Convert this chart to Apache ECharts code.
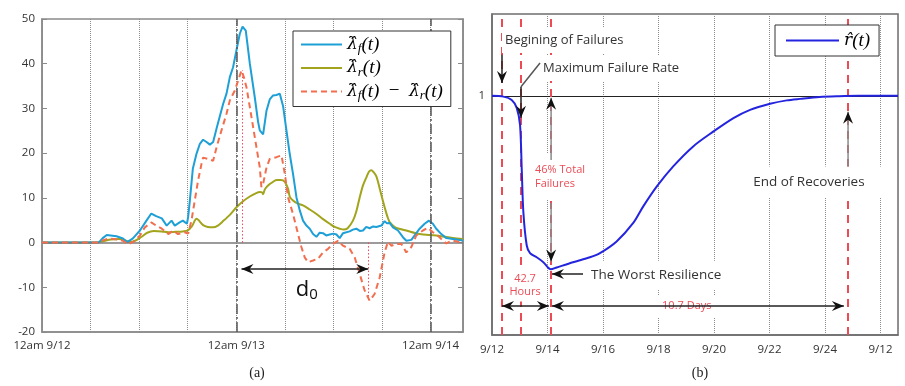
<!DOCTYPE html>
<html><head><meta charset="utf-8">
<script src="https://cdn.jsdelivr.net/npm/echarts@6/dist/echarts.min.js"></script>
<style>html,body{margin:0;padding:0;background:#fff}#c{width:905px;height:386px}</style>
</head><body><div id="c"></div>
<script>
// ---------- data ----------
// (a) hours since 12am 9/12
const failHours = [0,7.0,7.5,8.0,9.2,10.0,10.5,11.2,12.1,12.9,13.5,14.1,14.8,15.4,16.0,16.4,17.0,17.4,17.9,18.05,18.26,18.63,19.09,19.5,19.9,20.32,20.73,21.14,21.56,22.37,22.79,23.2,23.6,24.02,24.43,24.77,25.17,25.67,26.28,26.69,26.9,27.31,27.73,28.13,28.54,28.96,29.37,29.58,29.78,30.2,30.6,31.0,31.43,31.84,32.24,32.66,33.07,33.48,33.9,34.3,34.71,35.1,35.54,36.0,36.37,36.77,37.18,37.6,38.0,38.4,38.83,39.25,39.65,40.05,40.47,40.9,41.3,41.92,42.32,42.6,42.94,43.35,43.97,44.58,45.0,45.62,46.03,46.64,47.26,47.79,48.28,48.7,49.32,49.94,50.75,51.58,52];
const failRate = [0,0,1.0,1.7,1.4,0.9,0.1,0.9,2.7,4.9,6.5,5.9,5.4,3.8,4.9,3.8,4.5,4.9,4.2,5.7,9.4,16.5,19.9,22.1,23.0,22.5,21.9,22.5,25.5,31.0,33.3,37.0,39.2,43.0,46.7,48.3,47.4,40.0,32.5,27.0,25.1,24.2,29.5,32.0,32.9,33.0,33.3,33.6,30.5,25.0,19.8,15.4,10.1,7.2,4.9,3.8,3.1,1.9,1.3,2.2,2.1,1.6,1.8,2.0,1.8,1.0,2.1,2.3,2.5,2.9,3.1,2.6,2.7,3.5,3.2,3.6,3.5,3.8,4.8,4.3,4.4,3.4,2.7,1.2,0.4,0.6,1.6,3.1,4.2,4.9,4.2,3.1,1.9,1.0,0.8,0.6,0.4];

const repairHours = [0,6.5,7.5,8.5,9.5,10.3,10.8,11.5,12.3,13.0,13.8,14.8,15.6,16.5,17.4,18.0,18.5,19.09,19.9,20.48,21.14,21.72,22.37,23.2,24.02,24.8,25.67,26.4,26.9,27.2,27.31,27.5,27.73,28.13,28.54,29.0,29.5,29.99,30.4,30.6,31.0,31.6,32.24,33.07,33.9,34.67,35.54,36.15,36.77,37.26,37.75,38.41,38.83,39.24,39.65,40.07,40.4,40.68,40.97,41.3,41.71,42.08,42.32,42.7,42.94,43.3,43.77,45.0,46.64,48.7,50.75,52];
const repairRate = [0,0,0.3,0.7,0.8,0.5,0.1,0.4,1.3,2.2,2.6,2.5,2.3,2.4,2.5,2.7,3.6,5.3,3.9,3.5,3.4,3.8,4.8,6.2,7.9,9.2,10.3,11.0,11.3,11.2,10.8,11.8,12.4,13.1,13.6,14.0,14.0,13.6,12.0,10.3,9.4,8.7,8.3,7.4,6.4,5.3,4.2,3.5,3.1,2.9,3.2,4.9,7.0,10.1,12.8,14.6,15.9,16.2,15.7,14.8,12.1,9.5,7.9,5.6,4.6,3.9,3.3,2.7,1.9,1.6,1.0,0.8];

const netHours = [0,7.0,7.5,8.2,9.3,10.0,10.6,11.3,12.1,12.7,13.5,14.1,14.8,15.6,16.2,16.8,17.6,18.05,18.47,18.87,19.28,19.7,19.9,20.52,21.14,21.56,22.17,22.79,23.2,23.82,24.22,24.64,24.93,25.26,25.67,26.08,26.49,26.9,27.1,27.31,27.73,28.13,28.96,29.58,29.78,29.99,30.39,31.0,31.63,32.04,32.45,32.86,33.48,34.09,34.71,35.33,35.95,36.56,37.18,38.0,38.62,39.24,39.85,40.47,41.08,41.71,42.32,42.73,43.14,43.77,44.38,45.0,45.62,46.23,47.05,47.66,48.28,48.7,49.32,49.94,50.55,51.17,52];
const netRate = [0,0,0.5,0.9,0.7,0.4,-0.4,0.2,1.6,3.4,4.5,3.8,3.1,1.9,2.7,1.9,2.3,2.0,5.0,9.4,13.9,17.6,19.0,18.7,18.3,21.3,25.1,28.8,31.8,34.0,36.2,38.5,37.0,34.7,30.3,25.8,21.3,16.8,12.4,13.1,16.8,18.7,19.1,19.5,19.8,15.4,10.1,6.4,1.9,-1.0,-3.3,-4.4,-4.0,-3.6,-2.2,-1.4,-0.3,0.4,-0.7,-1.4,-3.3,-7.0,-10.7,-13.0,-11.5,-7.8,-2.2,0.2,-0.7,-0.3,-0.3,-2.2,-1.0,1.6,2.7,3.3,2.3,1.9,0.8,-0.2,0.4,0.3,-0.2];

const leftTickLabels = {0:'12am 9/12', 24:'12am 9/13', 48:'12am 9/14'};
const leftYTicks = [-20,-10,0,10,20,30,40,50];

// (b) days since 9/12
const resDays = [0,0.41,0.71,0.89,1.01,1.07,1.13,1.25,1.37,1.61,1.85,2.12,2.33,2.92,3.53,3.89,4.49,5.09,5.45,5.94,6.53,7.25,7.97,8.70,9.30,10.02,10.62,11.1,11.8,12.5,13.2,14.63];
const resValues = [1,0.998,0.989,0.968,0.923,0.809,0.692,0.604,0.583,0.572,0.559,0.54,0.545,0.559,0.572,0.583,0.614,0.663,0.707,0.760,0.813,0.866,0.905,0.941,0.963,0.979,0.988,0.992,0.997,0.999,1,1];
const rightTickLabels = ['9/12','9/14','9/16','9/18','9/20','9/22','9/24','9/12'];
const eventDays = [0.36, 1.045, 2.13, 12.83];   // begin, max rate, worst, end of recoveries
const peakHour = 24.77, peakNet = 38.5, troughHour = 40.3, troughNet = -13.2;

// ---------- chart ----------
const pairs = (xs, ys) => xs.map((x, i) => [x, ys[i]]);
const SANS = '"Open Sans", "Noto Sans", sans-serif';
const SERIF = '"Liberation Serif", "DejaVu Serif", serif';
const HATF = '"DejaVu Serif", serif';
const N_F = 'lf', N_R = 'lr', N_D = 'ld', N_RT = 'rt';
const legendText = {
  lf: '{h|λ\u0302}{s|f}{m|(t)}',
  lr: '{h|λ\u0302}{s|r}{m|(t)}',
  ld: '{h|λ\u0302}{s|f}{m|(t)}{o|  \u2212  }{h|λ\u0302}{s|r}{m|(t)}',
  rt: '{h|r\u0302}{m|(t)}'
};
const legendRich = {
  h: {fontFamily: HATF, fontStyle: 'italic', fontSize: 17, lineHeight: 22, color: '#000'},
  m: {fontFamily: SERIF, fontStyle: 'italic', fontSize: 19, lineHeight: 22, color: '#000'},
  o: {fontFamily: SERIF, fontSize: 19, lineHeight: 22, color: '#000'},
  s: {fontFamily: SERIF, fontStyle: 'italic', fontSize: 13, lineHeight: 12, verticalAlign: 'bottom', color: '#000'}
};
const C_F = '#1e9fd6', C_R = '#a2a41c', C_D = '#f26e4e', C_RT = '#2424df', C_EV = '#ec4b55';

const chart = echarts.init(document.getElementById('c'), null, {renderer: 'canvas'});
const option = {
  animation: false,
  textStyle: {fontFamily: SANS},
  grid: [
    {left: 42, top: 19, width: 421, height: 313, show: true, borderColor: '#8a8a8a', borderWidth: 1.5, outerBoundsMode: 'none'},
    {left: 492, top: 14, width: 406, height: 321, show: true, borderColor: '#6e6e6e', borderWidth: 1.5, outerBoundsMode: 'none'}
  ],
  xAxis: [
    {gridIndex: 0, type: 'value', min: 0, max: 52, interval: 6,
     axisLine: {onZero: false, lineStyle: {color: '#8a8a8a', width: 1.5}}, axisTick: {show: false},
     axisLabel: {formatter: v => leftTickLabels[v] || '', color: '#333', fontSize: 11.5, margin: 8, showMaxLabel: false},
     splitLine: {show: true, lineStyle: {type: 'dotted', color: '#8c8c8c', width: 1}}},
    {gridIndex: 1, type: 'value', min: 0, max: 14.63, interval: 2,
     axisLine: {onZero: false, lineStyle: {color: '#6e6e6e', width: 1.5}}, axisTick: {show: false},
     axisLabel: {formatter: v => (Math.abs(v / 2 - Math.round(v / 2)) < 1e-9 ? (rightTickLabels[Math.round(v / 2)] || '') : ''), color: '#333', fontSize: 11.5, margin: 9, showMaxLabel: false},
     splitLine: {show: true, lineStyle: {type: 'dotted', color: '#8c8c8c', width: 1}}}
  ],
  yAxis: [
    {gridIndex: 0, type: 'value', min: leftYTicks[0], max: leftYTicks[leftYTicks.length - 1], interval: 10,
     axisLine: {show: true, lineStyle: {color: '#8a8a8a', width: 1.5}},
     axisTick: {show: true, inside: true, length: 5, lineStyle: {color: '#8a8a8a'}},
     axisLabel: {color: '#333', fontSize: 11.5, margin: 7}, splitLine: {show: false}},
    {gridIndex: 0, type: 'value', position: 'right', min: leftYTicks[0], max: leftYTicks[leftYTicks.length - 1], interval: 10,
     axisLine: {show: true, lineStyle: {color: '#8a8a8a', width: 1.5}},
     axisTick: {show: true, inside: true, length: 5, lineStyle: {color: '#8a8a8a'}},
     axisLabel: {show: false}, splitLine: {show: false}},
    {gridIndex: 1, type: 'value', min: 0.366, max: 1.217,
     axisLine: {show: true, lineStyle: {color: '#6e6e6e', width: 1.5}}, axisTick: {show: false},
     axisLabel: {formatter: v => (Math.abs(v - 1) < 1e-9 ? '1' : ''), color: '#333', fontSize: 11.5, margin: 7, showMinLabel: false, showMaxLabel: false},
     splitLine: {show: false}}
  ],
  legend: [
    {data: [N_F, N_R, N_D], orient: 'vertical', left: 293, top: 31, itemWidth: 41, itemHeight: 14, itemGap: 3,
     padding: [4, 8, 4, 7], borderColor: '#333', borderWidth: 1, backgroundColor: '#fff', selectedMode: false,
     itemStyle: {opacity: 0},
     formatter: n => legendText[n], textStyle: {rich: legendRich}, z: 20},
    {data: [N_RT], orient: 'vertical', left: 775, top: 25, itemWidth: 53, itemHeight: 14,
     padding: [6, 9, 6, 10], borderColor: '#333', borderWidth: 1, backgroundColor: '#fff', selectedMode: false,
     itemStyle: {opacity: 0},
     formatter: n => legendText[n], textStyle: {rich: legendRich}, z: 20}
  ],
  series: [
    {name: N_F, type: 'line', xAxisIndex: 0, yAxisIndex: 0, data: pairs(failHours, failRate), symbol: 'none', showSymbol: false,
     lineStyle: {color: C_F, width: 2}, itemStyle: {color: C_F}, z: 4,
     markLine: {silent: true, symbol: ['none', 'none'], label: {show: false},
       data: [
         {yAxis: 0, lineStyle: {color: '#7a7a7a', width: 1.5, type: 'solid'}},
         {xAxis: 24, lineStyle: {color: '#555', width: 1.5, type: [10, 3, 2, 3]}},
         {xAxis: 48, lineStyle: {color: '#555', width: 1.5, type: [10, 3, 2, 3]}}
       ]}},
    {name: N_R, type: 'line', xAxisIndex: 0, yAxisIndex: 0, data: pairs(repairHours, repairRate), symbol: 'none', showSymbol: false,
     smooth: 0.3, lineStyle: {color: C_R, width: 2}, itemStyle: {color: C_R}, z: 3},
    {name: N_D, type: 'line', xAxisIndex: 0, yAxisIndex: 0, data: pairs(netHours, netRate), symbol: 'none', showSymbol: false,
     lineStyle: {color: C_D, width: 2, type: [6, 4]}, itemStyle: {color: C_D}, z: 5,
     markLine: {silent: true, symbol: ['none', 'none'], label: {show: false},
       lineStyle: {color: '#f04a5a', width: 1, type: [1.5, 2]},
       data: [
         [{coord: [peakHour, 0]}, {coord: [peakHour, peakNet]}],
         [{coord: [troughHour, 0]}, {coord: [troughHour, troughNet]}]
       ]}},
    {name: N_RT, type: 'line', xAxisIndex: 1, yAxisIndex: 2, data: pairs(resDays, resValues), symbol: 'none', showSymbol: false,
     smooth: 0.3, lineStyle: {color: C_RT, width: 2}, itemStyle: {color: C_RT}, z: 30,
     markLine: {silent: true, symbol: ['none', 'none'], label: {show: false},
       data: [{yAxis: 1, lineStyle: {color: '#222', width: 1, type: 'solid'}}].concat(
         eventDays.map(d => ({xAxis: d, lineStyle: {color: C_EV, width: 2, type: [8, 6]}})))}}
  ]
};
chart.setOption(option);

// ---------- annotations, anchored in data coordinates ----------
const toPx = (g, p) => chart.convertToPixel({xAxisIndex: g, yAxisIndex: g === 0 ? 0 : 2}, p);
const notes = [
  {g: 1, t: 'Begining of Failures', at: [0.468, 1.148], c: '#333', fs: 13, align: 'left', pad: [5, 6, 5, 3]},
  {g: 1, t: 'Maximum Failure Rate', at: [1.838, 1.074], c: '#333', fs: 13, align: 'left', pad: [5, 20, 5, 3]},
  {g: 1, t: '46% Total\nFailures', at: [1.55, 0.785], c: C_EV, fs: 11, lh: 14, align: 'left', pad: [9, 8, 9, 8]},
  {g: 1, t: 'The Worst Resilience', at: [3.57, 0.525], c: '#333', fs: 13.5, align: 'left', pad: [6, 22, 6, 4]},
  {g: 1, t: '42.7\nHours', at: [1.19, 0.497], c: C_EV, fs: 11, lh: 13, align: 'center', pad: [3, 4, 3, 4]},
  {g: 1, t: '10.7 Days', at: [7.02, 0.443], c: C_EV, fs: 11, align: 'center', pad: [4, 12, 4, 12]},
  {g: 1, t: 'End of Recoveries', at: [9.41, 0.772], c: '#333', fs: 13.5, align: 'left', pad: [7, 18, 7, 6]}
];
const arrows = [
  {g: 1, from: [0.36, 1.109], to: [0.36, 1.034]},
  {g: 1, from: [1.73, 1.087], to: [1.045, 1.024], noHead: true, shaft: '#555'},
  {g: 1, from: [1.045, 1.024], to: [1.045, 0.942]},
  {g: 1, from: [2.13, 0.830], to: [2.13, 0.995], shaft: '#8a8a8a'},
  {g: 1, from: [2.13, 0.716], to: [2.13, 0.561], shaft: '#8a8a8a'},
  {g: 1, from: [3.28, 0.528], to: [2.16, 0.528]},
  {g: 1, from: [0.36, 0.443], to: [2.05, 0.443], both: true},
  {g: 1, from: [2.16, 0.443], to: [12.68, 0.443], both: true},
  {g: 1, from: [12.83, 0.8126], to: [12.83, 0.9576], shaft: '#8a8a8a'},
  {g: 0, from: [24.64, -5.9], to: [40.3, -5.9], both: true}
];
function head(tip, from, color) {
  const dx = tip[0] - from[0], dy = tip[1] - from[1], L = Math.hypot(dx, dy) || 1;
  const ux = dx / L, uy = dy / L, nx = -uy, ny = ux;
  const len = 12, w = 5, back = 8;
  return {type: 'polygon', z: 120, silent: true, shape: {points: [
    [tip[0], tip[1]],
    [tip[0] - ux * len + nx * w, tip[1] - uy * len + ny * w],
    [tip[0] - ux * back, tip[1] - uy * back],
    [tip[0] - ux * len - nx * w, tip[1] - uy * len - ny * w]]}, style: {fill: color}};
}
const els = [];
notes.forEach(n => {
  const p = toPx(n.g, n.at);
  const x = n.align === 'left' ? p[0] - n.pad[3] : p[0];
  els.push({type: 'text', z: 100, silent: true, x: x, y: p[1], style: {
    text: n.t, fill: n.c, fontSize: n.fs, fontFamily: SANS, lineHeight: n.lh || (n.fs + 3),
    align: n.align, verticalAlign: 'middle', backgroundColor: '#fff', padding: n.pad}});
});
arrows.forEach(a => {
  const p1 = toPx(a.g, a.from), p2 = toPx(a.g, a.to);
  els.push({type: 'line', z: 110, silent: true, shape: {x1: p1[0], y1: p1[1], x2: p2[0], y2: p2[1]},
    style: {stroke: a.shaft || '#222', lineWidth: 1.5}});
  if (!a.noHead) els.push(head(p2, p1, '#111'));
  if (a.both) els.push(head(p1, p2, '#111'));
});
const d0 = toPx(0, [32.7, -10.7]);
els.push({type: 'text', z: 100, silent: true, x: d0[0], y: d0[1], style: {
  text: '{a|d}{b|0}', align: 'center', verticalAlign: 'middle',
  rich: {a: {fontSize: 22, fontFamily: SANS, lineHeight: 24, verticalAlign: 'top', fill: '#111'},
         b: {fontSize: 15, fontFamily: SANS, lineHeight: 15, verticalAlign: 'bottom', fill: '#111'}}}});
els.push({type: 'text', silent: true, x: 257, y: 373, style: {text: '(a)', fontSize: 14, fontFamily: SERIF, fill: '#222', align: 'center', verticalAlign: 'middle'}});
els.push({type: 'text', silent: true, x: 700, y: 373, style: {text: '(b)', fontSize: 14, fontFamily: SERIF, fill: '#222', align: 'center', verticalAlign: 'middle'}});
chart.setOption({graphic: {elements: els}});
</script>
</body></html>
